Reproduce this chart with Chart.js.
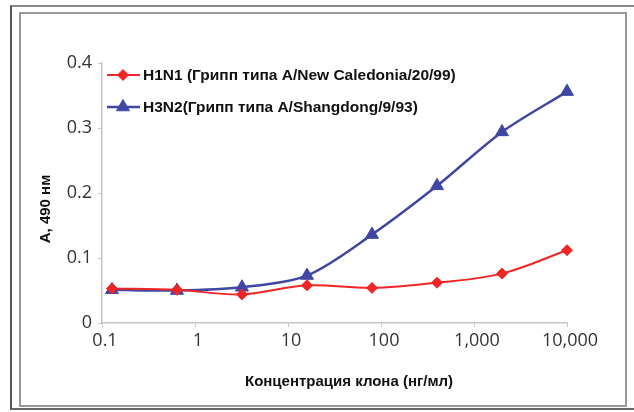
<!DOCTYPE html>
<html lang="ru">
<head>
<meta charset="utf-8">
<title>Концентрация клона</title>
<script src="https://cdn.jsdelivr.net/npm/chart.js@4.4.1/dist/chart.umd.min.js"></script>
<style>
  html, body { margin: 0; padding: 0; background: #fff; }
  #wrap { position: relative; width: 634px; height: 412px; overflow: hidden; }
  #outer { position: absolute; left: 10px; top: 5px; width: 640px; height: 405px;
           border-left: 2px solid #555; border-top: 2px solid #888; border-bottom: 2px solid #666; box-sizing: border-box; }
  #inner { position: absolute; left: 19px; top: 12px; width: 608px; height: 395px;
           border: 2px solid #999; box-sizing: border-box; }
  canvas { position: absolute; left: 0; top: 0; }
</style>
</head>
<body>
<div id="wrap">
  <div id="outer"></div>
  <div id="inner"></div>
  <canvas id="chart" width="634" height="412"></canvas>
</div>
<script>
// Clone concentrations, ng/ml (fivefold dilution series)
const concentrations = [0.128, 0.64, 3.2, 16, 80, 400, 2000, 10000];

// Absorbance at 490 nm
const h1n1Values = [0.053, 0.051, 0.044, 0.058, 0.054, 0.062, 0.076, 0.112];
const h3n2Values = [0.051, 0.050, 0.055, 0.073, 0.136, 0.211, 0.294, 0.356];

const seriesLabels = [
  'H1N1 (Грипп типа A/New Caledonia/20/99)',
  'H3N2(Грипп типа A/Shangdong/9/93)'
];

const xTickValues = [0.1, 1, 10, 100, 1000, 10000];
const xTickLabels = ['0.1', '1', '10', '100', '1,000', '10,000'];
const yTickValues = [0, 0.1, 0.2, 0.3, 0.4];
const yTickLabels = ['0', '0.1', '0.2', '0.3', '0.4'];

const xTitle = 'Концентрация клона (нг/мл)';
const yTitle = 'A, 490 нм';

const RED = '#ee2626';
const BLUE = '#4047a3';
const TICK_FONT = { family: '"Open Sans", sans-serif', size: 18 };
const TITLE_FONT = 'bold 15px "Liberation Sans", Arial, sans-serif';
const LEGEND_FONT = 'bold 15.5px "Liberation Sans", Arial, sans-serif';

const toPoints = vals => concentrations.map((c, i) => ({ x: c, y: vals[i] }));

// Legend (line segment with marker) and both axis titles
const decorations = {
  id: 'decorations',
  afterDraw(chart) {
    const ctx = chart.ctx;
    ctx.save();
    const rows = [75, 107];
    chart.data.datasets.forEach((ds, i) => {
      const y = rows[i];
      ctx.strokeStyle = ds.borderColor;
      ctx.lineWidth = ds.borderWidth;
      ctx.beginPath();
      ctx.moveTo(107, y);
      ctx.lineTo(140, y);
      ctx.stroke();
      ctx.fillStyle = ds.backgroundColor;
      ctx.lineWidth = 1;
      Chart.helpers.drawPoint(ctx, {
        pointStyle: ds.pointStyle,
        radius: ds.pointRadius,
        borderWidth: 1
      }, 123, y);
      ctx.fillStyle = '#111';
      ctx.font = LEGEND_FONT;
      ctx.textBaseline = 'middle';
      ctx.textAlign = 'left';
      ctx.fillText(ds.label, 143, y + 1);
    });

    ctx.font = TITLE_FONT;
    ctx.fillStyle = '#111';
    ctx.textAlign = 'center';
    ctx.textBaseline = 'middle';
    ctx.fillText(xTitle, 349, 382);

    ctx.translate(46, 209);
    ctx.rotate(-Math.PI / 2);
    ctx.fillText(yTitle, 0, 0);
    ctx.restore();
  }
};

function draw() {
  new Chart(document.getElementById('chart'), {
    type: 'line',
    data: {
      datasets: [
        {
          label: seriesLabels[0],
          data: toPoints(h1n1Values),
          borderColor: RED,
          backgroundColor: RED,
          borderWidth: 2,
          pointStyle: 'rectRot',
          pointRadius: 5.5,
          pointBorderWidth: 1,
          tension: 0.35,
          clip: false
        },
        {
          label: seriesLabels[1],
          data: toPoints(h3n2Values),
          borderColor: BLUE,
          backgroundColor: BLUE,
          borderWidth: 2.5,
          pointStyle: 'triangle',
          pointRadius: 7.5,
          pointBorderWidth: 1,
          tension: 0.3,
          clip: false
        }
      ]
    },
    options: {
      responsive: false,
      animation: false,
      layout: { padding: { left: 0, top: 63, right: 67, bottom: 0 } },
      plugins: {
        legend: { display: false },
        tooltip: { enabled: false }
      },
      scales: {
        x: {
          type: 'logarithmic',
          min: 0.1,
          max: 10000,
          afterBuildTicks: s => { s.ticks = xTickValues.map(v => ({ value: v })); },
          afterFit: s => { s.height = 89; },
          grid: { drawOnChartArea: false, drawTicks: true, tickLength: 4, color: '#c4c4c4' },
          border: { color: '#c4c4c4', width: 1.5 },
          ticks: {
            autoSkip: false,
            maxRotation: 0,
            padding: 3,
            labelOffset: 3,
            color: '#333',
            font: TICK_FONT,
            callback: (v, i) => xTickLabels[i]
          }
        },
        y: {
          min: 0,
          max: 0.4,
          afterBuildTicks: s => { s.ticks = yTickValues.map(v => ({ value: v })); },
          afterFit: s => { s.width = 102; },
          grid: { drawOnChartArea: false, drawTicks: true, tickLength: 4, color: '#c4c4c4' },
          border: { color: '#c4c4c4', width: 1.5 },
          ticks: {
            padding: 6,
            color: '#333',
            font: TICK_FONT,
            callback: (v, i) => yTickLabels[i]
          }
        }
      }
    },
    plugins: [decorations]
  });
}

Promise.all([
  document.fonts.load('18px "Open Sans"'),
  document.fonts.load('bold 15px "Liberation Sans"')
]).then(draw, draw);
</script>
</body>
</html>
